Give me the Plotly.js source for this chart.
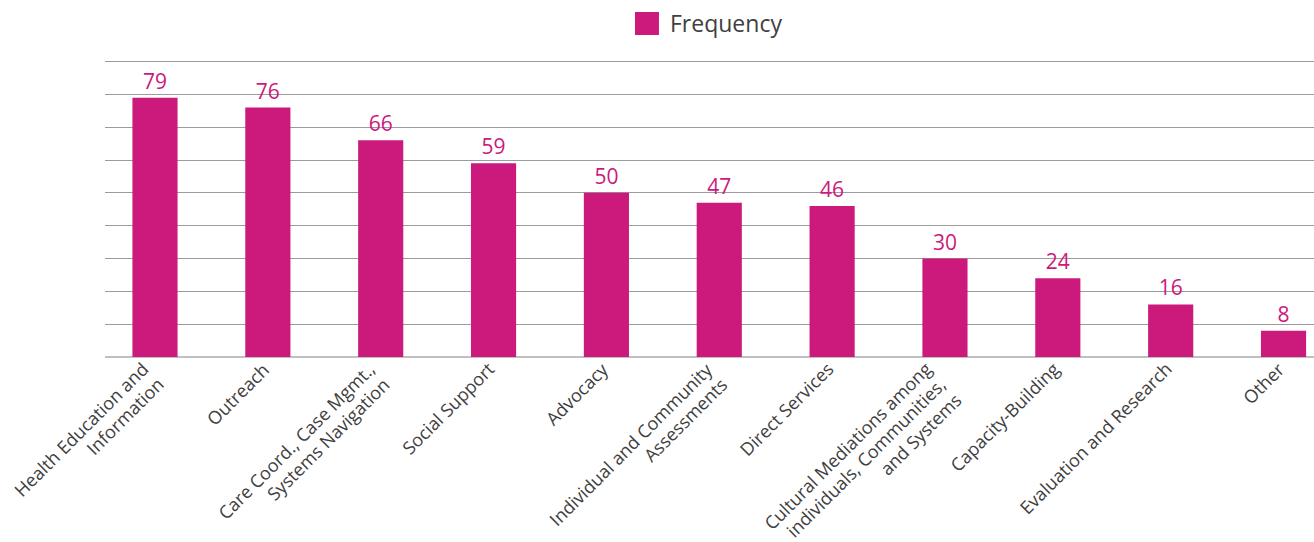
<!DOCTYPE html>
<html>
<head>
<meta charset="utf-8">
<script src="https://cdn.plot.ly/plotly-3.0.1.min.js"></script>
<style>html,body{margin:0;padding:0;background:#fff;}#chart{width:1314px;height:542px;}</style>
</head>
<body>
<div id="chart"></div>
<script>
const categories = [
  "Health Education and<br>Information",
  "Outreach",
  "Care Coord., Case Mgmt.,<br>Systems Navigation",
  "Social Support",
  "Advocacy",
  "Individual and Community<br>Assessments",
  "Direct Services",
  "Cultural Mediations among<br>individuals, Communities,<br>and Systems",
  "Capacity-Building",
  "Evaluation and Research",
  "Other"
];
const frequency = [79, 76, 66, 59, 50, 47, 46, 30, 24, 16, 8];
const seriesName = "Frequency";
const barColor = "#cc197c";
const labelColor = "#404040";

const trace = {
  type: "bar",
  name: seriesName,
  x: categories,
  y: frequency,
  width: 0.4,
  marker: {color: barColor},
  text: frequency.map(String),
  textposition: "outside",
  textfont: {family: "Open Sans", size: 21, color: barColor},
  cliponaxis: false,
  showlegend: false,
  hoverinfo: "x+y"
};

// Category labels rotated -45deg; each line is its own annotation so the
// line spacing can be tightened, block centred on its category.
const labelSize = 18;
const lineGap = 21.5;
const h1 = labelSize * 1.3 + 2;
const r2 = Math.SQRT2;
const catLabels = [];
categories.forEach(c => {
  const lines = c.split("<br>");
  const n = lines.length;
  const H = n * lineGap + 2;
  const cy = -2 + H / (2 * r2);           // block end-centre below axis (px)
  lines.forEach((ln, k) => {
    const d = (k - (n - 1) / 2) * lineGap / r2;
    catLabels.push({
      xref: "x", yref: "y", x: c, y: 0,
      text: ln, showarrow: false, textangle: -45,
      xanchor: "right", yanchor: "top",
      xshift: d + h1 / (2 * r2),
      yshift: -(cy + d - h1 / (2 * r2)),
      font: {family: "Open Sans", size: labelSize, color: labelColor}
    });
  });
});

const layout = {
  width: 1314, height: 542,
  margin: {l: 105, r: 0, t: 55, b: 185},
  paper_bgcolor: "#ffffff", plot_bgcolor: "#ffffff",
  font: {family: "Open Sans", color: labelColor},
  showlegend: false,
  xaxis: {
    type: "category",
    range: [-0.443, 10.27],
    showticklabels: false,
    showgrid: false, zeroline: false, showline: false,
    ticks: "", fixedrange: true
  },
  yaxis: {
    range: [0, 92],
    dtick: 10,
    showticklabels: false,
    showgrid: true, gridcolor: "#9c9c9c", gridwidth: 1,
    zeroline: true, zerolinecolor: "#c0c0c0", zerolinewidth: 2,
    ticks: "", fixedrange: true
  },
  shapes: [
    {type: "rect", xref: "paper", yref: "paper", x0: 0.4384, x1: 0.4582, y0: 1.0662, y1: 1.1424, fillcolor: barColor, line: {width: 0}}
  ],
  annotations: [
    {xref: "paper", yref: "paper", x: 0.4657, y: 1.106, xanchor: "left", yanchor: "middle", text: seriesName, showarrow: false, font: {family: "Open Sans", size: 23, color: labelColor}}
  ].concat(catLabels)
};

Plotly.newPlot("chart", [trace], layout, {displayModeBar: false, staticPlot: true});
</script>
</body>
</html>
